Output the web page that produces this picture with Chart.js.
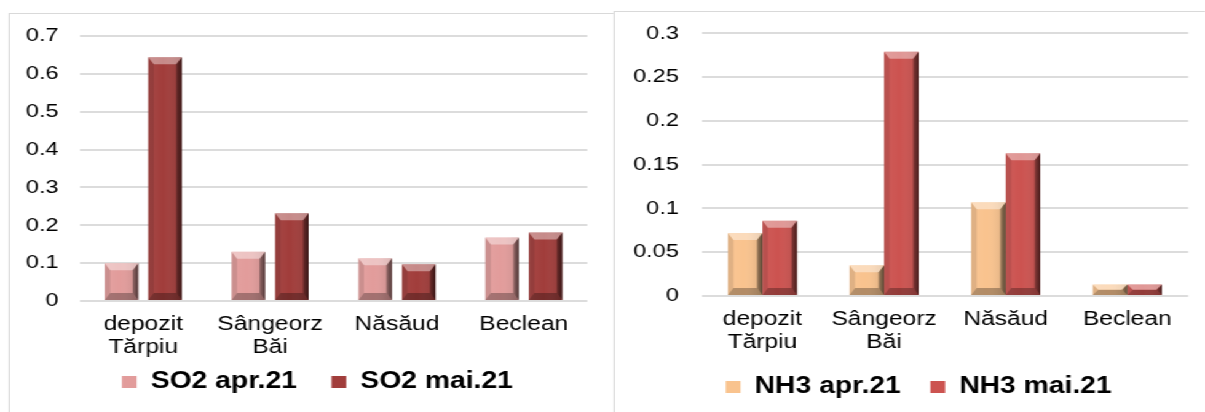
<!DOCTYPE html>
<html>
<head>
<meta charset="utf-8">
<script src="https://cdn.jsdelivr.net/npm/chart.js@4/dist/chart.umd.min.js"></script>
<style>
  html, body { margin: 0; padding: 0; background: #fff; overflow: hidden; }
  #stage { position: absolute; left: 0; top: 0; width: 980px; height: 412px; overflow: hidden; transform: scaleX(1.2296); transform-origin: 0 0; }
  .frame { position: absolute; border: 1.7px solid #D9D9D9; background: #fff; box-sizing: border-box; }
  canvas { position: absolute; top: 0; }
</style>
</head>
<body>
<div id="stage">
  <div class="frame" style="left:7px; top:13px; width:600px; height:500px;"></div>
  <canvas id="c1" width="499" height="480" style="left:0px;"></canvas>
  <div class="frame" style="left:499px; top:11px; width:600px; height:500px;"></div>
  <canvas id="c2" width="480" height="480" style="left:500px;"></canvas>
</div>
<script>
// ---- data ----
const categories = [['depozit', 'Tărpiu'], ['Sângeorz', 'Băi'], ['Năsăud'], ['Beclean']];
const so2Labels = ['SO2 apr.21', 'SO2 mai.21'];
const so2Apr = [0.100, 0.130, 0.113, 0.168];
const so2Mai = [0.644, 0.232, 0.097, 0.181];
const nh3Labels = ['NH3 apr.21', 'NH3 mai.21'];
const nh3Apr = [0.072, 0.035, 0.107, 0.013];
const nh3Mai = [0.086, 0.279, 0.163, 0.013];
const so2TickLabels = ['0', '0.1', '0.2', '0.3', '0.4', '0.5', '0.6', '0.7'];
const nh3TickLabels = ['0', '0.05', '0.1', '0.15', '0.2', '0.25', '0.3'];

const FONT = "'Liberation Sans', Arial, sans-serif";

// 3D bevel look drawn over each bar using the bar element geometry
const bevelPlugin = {
  id: 'bevel',
  afterDatasetsDraw(chart) {
    const ctx = chart.ctx;
    chart.data.datasets.forEach((ds, di) => {
      const meta = chart.getDatasetMeta(di);
      meta.data.forEach(bar => {
        const p = bar.getProps(['x', 'y', 'base', 'width'], true);
        const l = p.x - p.width / 2, r = p.x + p.width / 2;
        const t = Math.min(p.y, p.base), b = Math.max(p.y, p.base);
        const h = b - t;
        if (h <= 0) return;
        const bx = Math.min(4.5, p.width / 3), by = Math.min(7, h / 2);
        ctx.save();
        const g = ctx.createLinearGradient(l, 0, r, 0);
        g.addColorStop(0, 'rgba(255,255,255,0.06)');
        g.addColorStop(0.45, 'rgba(255,255,255,0.0)');
        g.addColorStop(1, 'rgba(0,0,0,0.14)');
        ctx.fillStyle = g;
        ctx.fillRect(l, t, r - l, h);
        const poly = (pts, fill) => {
          ctx.beginPath();
          ctx.moveTo(pts[0][0], pts[0][1]);
          for (let i = 1; i < pts.length; i++) ctx.lineTo(pts[i][0], pts[i][1]);
          ctx.closePath();
          ctx.fillStyle = fill;
          ctx.fill();
        };
        poly([[l, t], [l + bx, t + by], [l + bx, b - by], [l, b]], 'rgba(0,0,0,0.10)');
        const gr = ctx.createLinearGradient(r - bx, 0, r, 0);
        gr.addColorStop(0, 'rgba(0,0,0,0.30)');
        gr.addColorStop(1, 'rgba(0,0,0,0.58)');
        poly([[r, t], [r - bx, t + by], [r - bx, b - by], [r, b]], gr);
        poly([[l, b], [l + bx, b - by], [r - bx, b - by], [r, b]], 'rgba(0,0,0,0.28)');
        poly([[l, t], [r, t], [r - bx, t + by], [l + bx, t + by]], 'rgba(255,255,255,0.40)');
        ctx.restore();
      });
    });
  }
};

// place the library's legend box at a chosen spot
const legendPlace = {
  id: 'legendPlace',
  afterLayout(chart, args, opts) {
    const lg = chart.legend;
    if (!lg) return;
    const w = lg.right - lg.left, h = lg.bottom - lg.top;
    lg.left = opts.cx - w / 2; lg.right = opts.cx + w / 2;
    lg.top = opts.top; lg.bottom = opts.top + h;
  }
};

function makeChart(id, cfg) {
  return new Chart(document.getElementById(id), {
    type: 'bar',
    data: {
      labels: categories,
      datasets: [
        { label: cfg.names[0], data: cfg.a, backgroundColor: cfg.colors[0], borderWidth: 0,
          categoryPercentage: cfg.catPct, barPercentage: cfg.barPct },
        { label: cfg.names[1], data: cfg.b, backgroundColor: cfg.colors[1], borderWidth: 0,
          categoryPercentage: cfg.catPct, barPercentage: cfg.barPct }
      ]
    },
    options: {
      responsive: false,
      animation: false,
      devicePixelRatio: 1,
      layout: { padding: cfg.padding },
      plugins: {
        tooltip: { enabled: false },
        legendPlace: cfg.legendPos,
        legend: {
          position: 'bottom',
          labels: {
            boxWidth: 12, boxHeight: 12, padding: cfg.legendPad, color: '#000',
            font: { family: FONT, size: 23, weight: 'bold' }
          }
        }
      },
      scales: {
        x: {
          grid: { display: false, drawTicks: false },
          border: { display: false },
          ticks: { color: '#000', padding: 12, maxRotation: 0, autoSkip: false,
                   font: { family: FONT, size: 20, lineHeight: 1.15 } },
          afterFit: s => { s.height = cfg.xHeight; }
        },
        y: {
          min: 0, max: cfg.max,
          grid: { color: '#DCDCDC', lineWidth: 2, drawTicks: false },
          border: { display: false },
          ticks: { stepSize: cfg.step, color: '#000', padding: cfg.tickPad,
                   font: { family: FONT, size: 19 },
                   callback: (v, i) => cfg.tickLabels[i] },
          afterFit: s => { s.width = cfg.yWidth; }
        }
      }
    },
    plugins: [bevelPlugin, legendPlace]
  });
}

makeChart('c1', {
  names: so2Labels, a: so2Apr, b: so2Mai,
  colors: ['#E29C9B', '#A13D3B'],
  catPct: 0.686, barPct: 0.77,
  padding: { top: 36, bottom: 56, left: 0, right: 21.4 },
  legendPad: 28, xHeight: 62, yWidth: 64.9, tickPad: 17.4,
  legendPos: { cx: 258.1, top: 342.5 },
  max: 0.7, step: 0.1, tickLabels: so2TickLabels
});

makeChart('c2', {
  names: nh3Labels, a: nh3Apr, b: nh3Mai,
  colors: ['#F9C38E', '#CC5350'],
  catPct: 0.568, barPct: 1.0,
  padding: { top: 33.3, bottom: 65, left: 0, right: 13.7 },
  legendPad: 24, xHeight: 62, yWidth: 70.6, tickPad: 18.6,
  legendPos: { cx: 247.2, top: 351.5 },
  max: 0.3, step: 0.05, tickLabels: nh3TickLabels
});
</script>
</body>
</html>
